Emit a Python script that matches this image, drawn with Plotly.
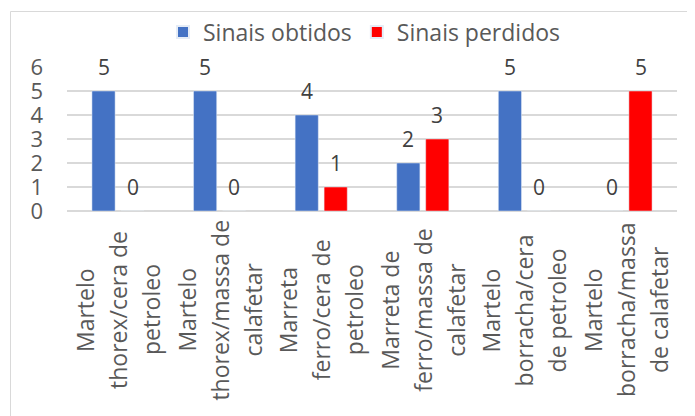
import plotly.graph_objects as go

categories = [
    "Martelo<br>thorex/cera de<br>petroleo",
    "Martelo<br>thorex/massa de<br>calafetar",
    "Marreta<br>ferro/cera de<br>petroleo",
    "Marreta de<br>ferro/massa de<br>calafetar",
    "Martelo<br>borracha/cera<br>de petroleo",
    "Martelo<br>borracha/massa<br>de calafetar",
]
obtidos = [5, 5, 4, 2, 5, 0]
perdidos = [0, 0, 1, 3, 0, 5]
series_names = ["Sinais obtidos", "Sinais perdidos"]
y_ticks = [0, 1, 2, 3, 4, 5, 6]

FONT = "Open Sans"
GRAY = "#595959"
DARK = "#404040"
BLUE = "#4472C4"
RED = "#FF0000"
FS = 23
FT = 22
FD = 21

# page body has an 8px margin; figure is sized/positioned to compensate
OFF = 8
W, H = 695 - OFF, 416 - OFF
ML, MR, MT, MB = 67 - OFF, 18, 67 - OFF, 205
PW = W - ML - MR
PH = H - MT - MB

fig = go.Figure()
fig.add_trace(go.Bar(x=categories, y=obtidos, name=series_names[0], marker_color=BLUE))
fig.add_trace(go.Bar(x=categories, y=perdidos, name=series_names[1], marker_color=RED))

annotations = []
# value labels
for vals, dx in ((obtidos, -14.5), (perdidos, 14.5)):
    for c, v in zip(categories, vals):
        annotations.append(dict(
            x=c, y=v, xref="x", yref="y", text=str(v), showarrow=False,
            xshift=dx, yshift=24, yanchor="middle", xanchor="center",
            font=dict(family=FONT, size=FD, color=DARK)))
# category labels, one annotation per line for Excel-like line spacing
LINE = 33
for c in categories:
    lines = c.split("<br>")
    n = len(lines)
    for i, ln in enumerate(lines):
        annotations.append(dict(
            x=c, y=0, xref="x", yref="y", text=ln, showarrow=False,
            textangle=-90, xanchor="center", yanchor="middle",
            xshift=(i - (n - 1) / 2) * LINE, yshift=-99,
            font=dict(family=FONT, size=FS, color=GRAY)))

def px_x(x):
    return (x - OFF - ML) / PW

def px_y(y):
    return (H - MB - (y - OFF)) / PH

fig.update_layout(
    width=W, height=H,
    margin=dict(l=ML, r=MR, t=MT, b=MB, autoexpand=False),
    paper_bgcolor="white", plot_bgcolor="white",
    barmode="group", bargap=0.43, bargroupgap=0.2,
    font=dict(family=FONT, size=FS, color=GRAY),
    showlegend=True,
    legend=dict(orientation="h", x=px_x(364.5), xanchor="center", y=px_y(32), yanchor="middle",
                font=dict(family=FONT, size=FS, color=GRAY), bgcolor="rgba(0,0,0,0)",
                itemsizing="constant"),
    annotations=annotations,
    shapes=[dict(type="rect", xref="paper", yref="paper",
                 x0=px_x(10.5), x1=px_x(705), y0=px_y(430), y1=px_y(11.5),
                 line=dict(color="#D9D9D9", width=1), fillcolor="rgba(0,0,0,0)", layer="below")],
)
fig.update_xaxes(showticklabels=False, showgrid=False, showline=False, ticks="", zeroline=False)
fig.update_yaxes(range=[0, 6], tickvals=y_ticks, showgrid=True, gridcolor="#D9D9D9", gridwidth=1.5,
                 zeroline=True, zerolinecolor="#D9D9D9", zerolinewidth=1.5, showline=False,
                 ticks="", ticklabelstandoff=23, tickfont=dict(family=FONT, size=FT, color=GRAY))

fig.write_html("out.html")
